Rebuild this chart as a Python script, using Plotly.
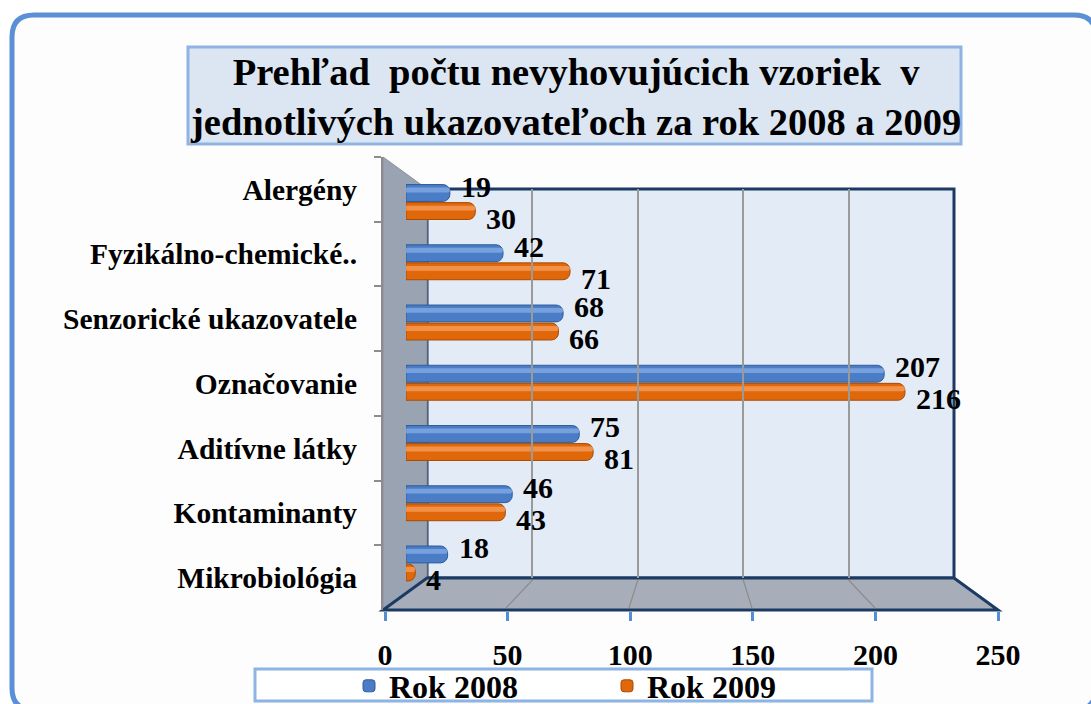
import plotly.graph_objects as go

# ---------------- data ----------------
categories = ["Alergény", "Fyzikálno-chemické..", "Senzorické ukazovatele", "Označovanie",
              "Aditívne látky", "Kontaminanty", "Mikrobiológia"]
rok_2008 = [19, 42, 68, 207, 75, 46, 18]
rok_2009 = [30, 71, 66, 216, 81, 43, 4]
series_names = ["Rok 2008", "Rok 2009"]
x_ticks = [0, 50, 100, 150, 200, 250]
x_max = 250
title_lines = ["Prehľad\u00a0 počtu nevyhovujúcich vzoriek\u00a0 v",
               "jednotlivých ukazovateľoch za rok 2008 a 2009"]

# ---------------- geometry helpers (figure pixels -> paper) ----------------
W, H = 1091, 704
def px(x):
    return x / W
def py(y):
    return 1 - y / H
def path_px(pts, close=True):
    s = "M " + " L ".join(f"{px(x):.5f},{py(y):.5f}" for x, y in pts)
    return s + (" Z" if close else "")

FONT = "Liberation Serif"
BLUE, BLUE_HI, BLUE_LN = "#4A7DC6", "#86AEE6", "#2F5D9A"
ORANGE, ORANGE_HI, ORANGE_LN = "#E0680A", "#F8A060", "#A84B05"
NAVY = "#1B3A64"

# bar placement inside category band (category units)
bw = 0.28
off_2008, off_2009 = -0.29, 0.01
hi_w = 0.08

fig = go.Figure()

# main cylinders
for vals, name, col, ln, off in [(rok_2008, series_names[0], BLUE, BLUE_LN, off_2008),
                                 (rok_2009, series_names[1], ORANGE, ORANGE_LN, off_2009)]:
    fig.add_trace(go.Bar(
        x=vals, y=categories, orientation="h", name=name,
        width=bw, offset=off,
        marker=dict(color=col, line=dict(color=ln, width=1), cornerradius=7),
        xaxis="x", yaxis="y", hoverinfo="x+name",
    ))
# highlight strips (cylinder shine)
for vals, col, off in [(rok_2008, BLUE_HI, off_2008 + 0.05),
                       (rok_2009, ORANGE_HI, off_2009 + 0.05)]:
    fig.add_trace(go.Bar(
        x=vals, y=categories, orientation="h", showlegend=False,
        width=hi_w, offset=off,
        marker=dict(color=col, line=dict(width=0), cornerradius=3, opacity=0.75),
        xaxis="x", yaxis="y", hoverinfo="skip",
    ))

# helper invisible traces for category axis and grid axis
fig.add_trace(go.Scatter(x=[0] * len(categories), y=categories, xaxis="x2", yaxis="y2",
                         mode="markers", marker=dict(opacity=0), showlegend=False,
                         hoverinfo="skip"))
fig.add_trace(go.Scatter(x=[0, x_max], y=[0, 1], xaxis="x3", yaxis="y3",
                         mode="markers", marker=dict(opacity=0), showlegend=False,
                         hoverinfo="skip"))

# data labels
ann = []
for vals, shift in [(rok_2008, 16), (rok_2009, -16)]:
    for c, v in zip(categories, vals):
        ann.append(dict(x=v, y=c, xref="x", yref="y", text=str(v), showarrow=False,
                        xanchor="left", yanchor="middle", xshift=9, yshift=shift,
                        font=dict(family=FONT, size=30, color="black", weight="bold")))
# title
ann.append(dict(x=px(575), y=py(97), xref="paper", yref="paper",
                text="<br>".join(title_lines), showarrow=False,
                xanchor="center", yanchor="middle", align="center",
                font=dict(family=FONT, size=38.5, color="black", weight="bold")))

# ---------------- decorative 3D frame ----------------
shapes = []
# outer rounded border
r = 22
x0, y0, x1, y1 = 12, 15, 1096, 710
outer = (f"M {px(x0)},{py(y0 + r)} Q {px(x0)},{py(y0)} {px(x0 + r)},{py(y0)} "
         f"L {px(x1 - r)},{py(y0)} Q {px(x1)},{py(y0)} {px(x1)},{py(y0 + r)} "
         f"L {px(x1)},{py(y1 - r)} Q {px(x1)},{py(y1)} {px(x1 - r)},{py(y1)} "
         f"L {px(x0 + r)},{py(y1)} Q {px(x0)},{py(y1)} {px(x0)},{py(y1 - r)} Z")
shapes.append(dict(type="path", path=outer, xref="paper", yref="paper",
                   line=dict(color="#5B8FD6", width=5), fillcolor="#FDFDFD", layer="below"))
# title box
shapes.append(dict(type="rect", xref="paper", yref="paper",
                   x0=px(188), x1=px(961), y0=py(144), y1=py(47),
                   line=dict(color="#8EB4E3", width=3), fillcolor="#DCE6F2", layer="below"))
# legend box
shapes.append(dict(type="rect", xref="paper", yref="paper",
                   x0=px(255), x1=px(872), y0=py(701), y1=py(669),
                   line=dict(color="#8EB4E3", width=3), fillcolor="white", layer="below"))
# back wall
BW_L, BW_R, BW_T, BW_B = 427, 954, 189, 578
FL_L, FL_R, FL_Y = 383, 998, 610
LW_T = 157
shapes.append(dict(type="rect", xref="paper", yref="paper",
                   x0=px(BW_L), x1=px(BW_R), y0=py(BW_B), y1=py(BW_T),
                   line=dict(color=NAVY, width=3), fillcolor="#E2EBF6", layer="below"))
# left wall
shapes.append(dict(type="path", xref="paper", yref="paper",
                   path=path_px([(FL_L, LW_T), (BW_L, BW_T), (BW_L, BW_B), (FL_L, FL_Y)]),
                   line=dict(color="#8A8F98", width=1), fillcolor="#9AA3B2", layer="below"))
# floor
shapes.append(dict(type="path", xref="paper", yref="paper",
                   path=path_px([(BW_L, BW_B), (BW_R, BW_B), (FL_R, FL_Y), (FL_L, FL_Y)]),
                   line=dict(color=NAVY, width=3), fillcolor="#A7AEBA", layer="below"))
# floor grid lines (perspective continuation of the back-wall grid)
for t in x_ticks[1:-1]:
    xb = BW_L + (BW_R - BW_L) * t / x_max
    xf = FL_L + (FL_R - FL_L) * t / x_max
    shapes.append(dict(type="line", xref="paper", yref="paper",
                       x0=px(xb), y0=py(BW_B + 2), x1=px(xf), y1=py(FL_Y - 2),
                       line=dict(color="#8C8C8C", width=1.2), layer="below"))

fig.update_layout(
    width=W, height=H, autosize=False,
    margin=dict(l=0, r=0, t=0, b=0, pad=0, autoexpand=False),
    paper_bgcolor="white", plot_bgcolor="rgba(0,0,0,0)",
    barmode="overlay",
    shapes=shapes, annotations=ann,
    showlegend=True,
    legend=dict(orientation="h", x=px(349), y=py(686), xanchor="left", yanchor="middle",
                bgcolor="rgba(0,0,0,0)", borderwidth=0, entrywidth=213,
                font=dict(family=FONT, size=32, color="black", weight="bold"),
                traceorder="normal"),
    # bars
    xaxis=dict(domain=[px(406), px(406 + 2.31 * x_max)], range=[0, x_max], visible=False,
               anchor="y"),
    yaxis=dict(domain=[py(593.6), py(171.9)], type="category", categoryorder="array",
               categoryarray=categories, range=[len(categories) - 0.5, -0.5],
               visible=False, anchor="x"),
    # visible value axis (front edge of floor)
    xaxis2=dict(domain=[px(FL_L + 2), px(FL_R)], range=[0, x_max], anchor="free",
                position=py(FL_Y + 1), side="bottom", tickvals=x_ticks,
                ticks="outside", ticklen=9, tickwidth=3, tickcolor="#558ED5",
                showline=False, showgrid=False, zeroline=False, ticklabelstandoff=8,
                tickfont=dict(family=FONT, size=30, color="black", weight="bold")),
    # category axis (left)
    yaxis2=dict(domain=[py(FL_Y), py(LW_T)], type="category", categoryorder="array",
                categoryarray=categories, range=[len(categories) - 0.5, -0.5],
                anchor="free", position=px(FL_L - 1), side="left",
                showline=True, linecolor="#8C8C8C", linewidth=2,
                ticks="outside", ticklen=7, tickcolor="#8C8C8C", tickwidth=1.5,
                tickson="boundaries", showgrid=False, zeroline=False,
                ticklabelstandoff=18,
                tickfont=dict(family=FONT, size=29.5, color="black", weight="bold")),
    # back wall grid
    xaxis3=dict(domain=[px(BW_L), px(BW_R)], range=[0, x_max], anchor="y3",
                tickvals=x_ticks[1:-1], showgrid=True, gridcolor="#9A9A9A", gridwidth=1.5,
                showticklabels=False, ticks="", showline=False, zeroline=False),
    yaxis3=dict(domain=[py(BW_B), py(BW_T)], range=[0, 1], visible=False, anchor="x3"),
)

fig.write_html("out.html", config={"displayModeBar": False},
               post_script="document.body.style.margin='0';document.body.style.overflow='hidden';")
